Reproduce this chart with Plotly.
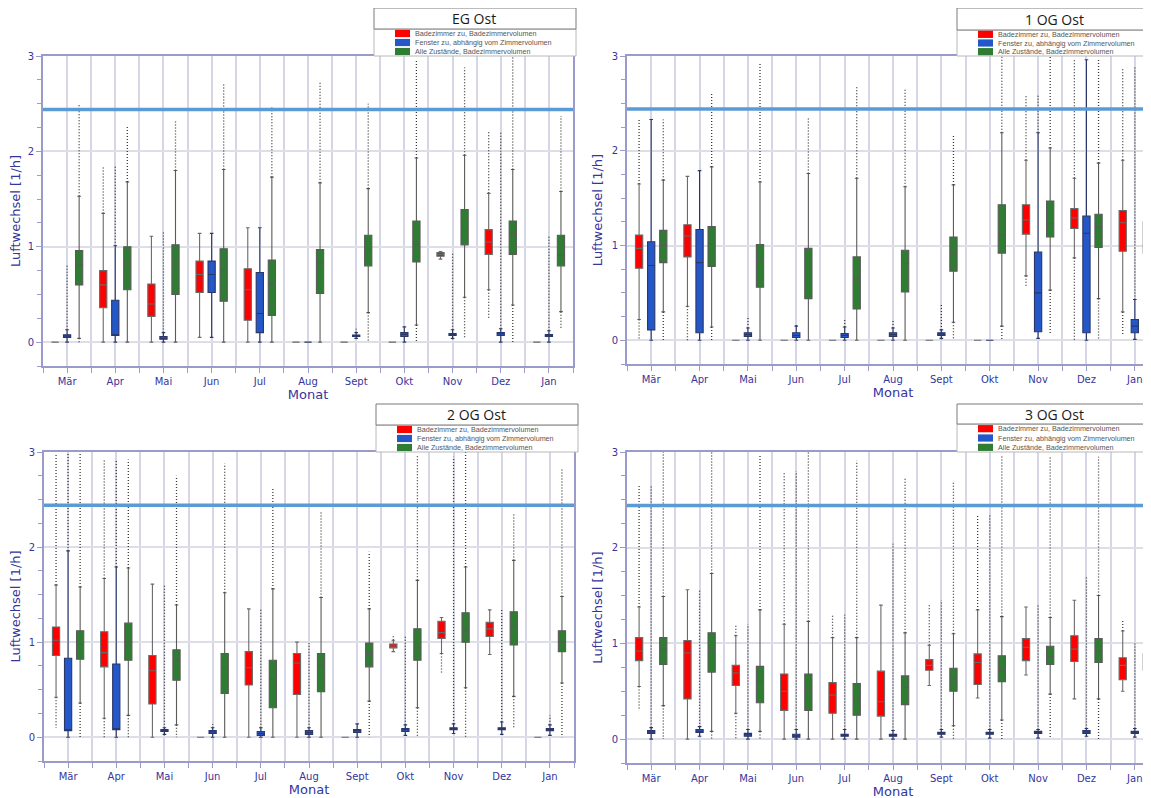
import plotly.graph_objects as go

W, H = 1151, 798
PAGE_OFFSET = 8  # default body margin of the html page

months = ["Mär", "Apr", "Mai", "Jun", "Jul", "Aug", "Sept", "Okt", "Nov", "Dez", "Jan"]
series_names = ["Badezimmer zu, Badezimmervolumen",
                "Fenster zu, abhängig vom Zimmervolumen",
                "Alle Zustände, Badezimmervolumen"]
series_colors = ["#ff0000", "#2457c8", "#2e7d32"]
series_line_colors = ["#6a6a6a", "#2a3768", "#5a5a5a"]
panel_titles = ["EG Ost", "1 OG Ost", "2 OG Ost", "3 OG Ost"]
limit_value = 2.44

# rows per month: (lower whisker, q1, median, q3, upper whisker, lowest outlier, highest outlier)
eg_bad = [
    (0, 0, 0, 0, 0, None, None),
    (0, 0.36, 0.60, 0.75, 1.35, None, 1.84),
    (0, 0.27, 0.40, 0.61, 1.11, None, None),
    (0.05, 0.52, 0.71, 0.85, 1.14, None, None),
    (0, 0.23, 0.55, 0.77, 1.20, None, None),
    (0, 0, 0, 0, 0, None, None),
    (0, 0, 0, 0, 0, None, None),
    (0, 0, 0, 0, 0, None, None),
    (0.87, 0.90, 0.92, 0.94, 0.95, None, None),
    (0.55, 0.92, 1.05, 1.18, 1.56, 0.24, 2.20),
    (0, 0, 0, 0, 0, None, None),
]
eg_fen = [
    (0, 0.05, 0.065, 0.077, 0.13, None, 0.80),
    (0, 0.07, 0.08, 0.44, 1.01, None, 1.84),
    (0, 0.03, 0.04, 0.06, 0.10, None, 1.16),
    (0.05, 0.52, 0.71, 0.85, 1.14, None, None),
    (0, 0.10, 0.30, 0.73, 1.20, None, None),
    (0, 0, 0, 0, 0, None, None),
    (0.04, 0.06, 0.065, 0.075, 0.10, None, 0.14),
    (0, 0.06, 0.08, 0.10, 0.16, None, None),
    (0.04, 0.07, 0.08, 0.09, 0.13, 0.02, 0.93),
    (0, 0.07, 0.09, 0.10, 0.14, None, 2.20),
    (0, 0.06, 0.07, 0.08, 0.12, None, 1.12),
]
eg_all = [
    (0.04, 0.60, 0.81, 0.96, 1.53, 0.0, 2.50),
    (0, 0.55, 0.82, 1.00, 1.68, None, 2.27),
    (0, 0.50, 0.82, 1.02, 1.80, None, 2.33),
    (0, 0.43, 0.76, 0.98, 1.81, None, 2.72),
    (0, 0.28, 0.61, 0.86, 1.73, None, 2.46),
    (0, 0.51, 0.83, 0.97, 1.67, None, 2.72),
    (0.31, 0.80, 0.97, 1.12, 1.61, 0.0, 2.50),
    (0.18, 0.84, 1.02, 1.27, 1.93, 0.0, 2.96),
    (0.47, 1.02, 1.18, 1.39, 1.96, 0.05, 2.88),
    (0.39, 0.92, 1.13, 1.27, 1.81, 0.0, 3.00),
    (0.32, 0.80, 0.91, 1.12, 1.58, 0.15, 2.37),
]

og1_bad = [
    (0.22, 0.76, 0.97, 1.11, 1.65, 0.0, 2.33),
    (0.36, 0.88, 1.10, 1.22, 1.73, 0.0, None),
    (0, 0, 0, 0, 0, None, None),
    (0, 0, 0, 0, 0, None, None),
    (0, 0, 0, 0, 0, None, None),
    (0, 0, 0, 0, 0, None, None),
    (0, 0, 0, 0, 0, None, None),
    (0, 0, 0, 0, 0, None, None),
    (0.68, 1.12, 1.27, 1.43, 1.90, 0.57, 2.59),
    (0.87, 1.18, 1.29, 1.39, 1.71, 0.0, 2.97),
    (0.30, 0.94, 1.24, 1.37, 1.90, 0.05, 2.88),
]
og1_fen = [
    (0, 0.11, 0.79, 1.04, 2.33, None, None),
    (0, 0.08, 0.82, 1.17, 1.79, None, None),
    (0, 0.04, 0.06, 0.08, 0.13, None, 0.25),
    (0, 0.03, 0.05, 0.08, 0.15, None, 0.18),
    (0, 0.03, 0.05, 0.07, 0.14, None, 0.22),
    (0, 0.04, 0.06, 0.08, 0.13, None, 0.22),
    (0.02, 0.05, 0.065, 0.08, 0.11, 0.0, 0.38),
    (0, 0, 0, 0, 0, None, None),
    (0.02, 0.09, 0.50, 0.93, 2.19, None, 2.58),
    (0, 0.08, 1.13, 1.31, 2.96, None, None),
    (0.01, 0.08, 0.15, 0.22, 0.43, None, 2.88),
]
og1_all = [
    (0.30, 0.82, 1.01, 1.16, 1.69, 0.0, 2.33),
    (0.14, 0.78, 1.02, 1.20, 1.83, 0.0, 2.60),
    (0, 0.56, 0.84, 1.01, 1.67, None, 2.93),
    (0, 0.44, 0.77, 0.97, 1.76, None, 2.35),
    (0, 0.33, 0.65, 0.88, 1.71, None, 2.68),
    (0, 0.51, 0.81, 0.95, 1.62, None, 2.66),
    (0.19, 0.73, 0.91, 1.09, 1.64, 0.0, 2.17),
    (0.15, 0.92, 1.11, 1.43, 2.19, 0.0, 3.00),
    (0.53, 1.09, 1.23, 1.47, 2.03, 0.07, 3.00),
    (0.44, 0.98, 1.20, 1.33, 1.87, 0.0, 2.97),
    (0.43, 0.92, 1.03, 1.25, 1.76, 0.05, 2.90),
]

og2_bad = [
    (0.42, 0.86, 1.02, 1.16, 1.60, 0.10, 2.99),
    (0.20, 0.74, 0.89, 1.11, 1.67, 0.0, 2.92),
    (0, 0.35, 0.70, 0.86, 1.61, None, None),
    (0, 0, 0, 0, 0, None, None),
    (0, 0.55, 0.73, 0.90, 1.35, None, None),
    (0, 0.45, 0.78, 0.88, 1.00, None, None),
    (0, 0, 0, 0, 0, None, None),
    (0.90, 0.94, 0.96, 0.98, 1.02, None, 1.07),
    (0.88, 1.04, 1.10, 1.22, 1.26, 0.67, None),
    (0.87, 1.06, 1.14, 1.21, 1.34, None, None),
    (0, 0, 0, 0, 0, None, None),
]
og2_fen = [
    (0, 0.07, 0.08, 0.83, 1.96, None, 2.99),
    (0, 0.08, 0.09, 0.77, 1.79, None, 2.92),
    (0.03, 0.06, 0.07, 0.08, 0.10, 0.0, 1.60),
    (0, 0.04, 0.055, 0.07, 0.10, None, 0.14),
    (0, 0.02, 0.04, 0.06, 0.10, None, 1.35),
    (0, 0.03, 0.05, 0.07, 0.10, None, 0.99),
    (0, 0.05, 0.07, 0.08, 0.14, None, None),
    (0.02, 0.06, 0.08, 0.09, 0.13, None, 1.07),
    (0.04, 0.08, 0.09, 0.10, 0.14, None, 2.95),
    (0.03, 0.08, 0.09, 0.10, 0.16, None, 1.35),
    (0.02, 0.07, 0.08, 0.09, 0.13, None, 0.23),
]
og2_all = [
    (0.36, 0.82, 0.98, 1.12, 1.58, 0.0, 2.99),
    (0.23, 0.81, 1.00, 1.20, 1.78, 0.0, 2.92),
    (0.13, 0.60, 0.81, 0.92, 1.39, 0.0, 2.75),
    (0, 0.46, 0.73, 0.88, 1.52, None, 2.88),
    (0, 0.31, 0.61, 0.81, 1.56, None, 2.62),
    (0, 0.48, 0.76, 0.88, 1.47, None, 2.37),
    (0.38, 0.74, 0.87, 0.99, 1.35, 0.0, 1.95),
    (0.31, 0.81, 0.94, 1.14, 1.65, 0.0, 2.97),
    (0.52, 1.00, 1.12, 1.31, 1.79, 0.0, 3.00),
    (0.43, 0.97, 1.17, 1.32, 1.86, 0.10, 2.35),
    (0.57, 0.90, 1.00, 1.12, 1.48, 0.0, 2.83),
]

og3_bad = [
    (0.55, 0.82, 0.92, 1.06, 1.38, 0.32, 2.65),
    (0, 0.42, 0.90, 1.03, 1.56, None, None),
    (0.27, 0.56, 0.69, 0.77, 1.08, 0.0, 1.20),
    (0, 0.30, 0.50, 0.68, 1.20, None, 2.80),
    (0, 0.27, 0.46, 0.59, 1.06, None, 1.30),
    (0, 0.24, 0.39, 0.71, 1.40, None, None),
    (0.56, 0.72, 0.77, 0.83, 0.98, None, 1.40),
    (0.43, 0.57, 0.80, 0.89, 1.35, None, 2.33),
    (0.67, 0.82, 0.96, 1.05, 1.38, None, None),
    (0.42, 0.81, 0.94, 1.08, 1.45, None, None),
    (0.50, 0.62, 0.77, 0.85, 1.13, None, 1.25),
]
og3_fen = [
    (0, 0.06, 0.075, 0.09, 0.12, None, 2.65),
    (0.03, 0.07, 0.08, 0.10, 0.13, None, 1.56),
    (0, 0.03, 0.045, 0.06, 0.10, None, 1.20),
    (0, 0.02, 0.035, 0.05, 0.10, None, 2.80),
    (0, 0.03, 0.04, 0.05, 0.10, None, 1.30),
    (0, 0.03, 0.04, 0.05, 0.09, None, 2.04),
    (0.02, 0.05, 0.06, 0.07, 0.10, None, 1.45),
    (0.01, 0.05, 0.06, 0.07, 0.10, None, 2.35),
    (0.01, 0.06, 0.07, 0.08, 0.10, None, 1.40),
    (0.03, 0.06, 0.075, 0.09, 0.11, None, 1.70),
    (0.02, 0.06, 0.07, 0.08, 0.11, None, 1.00),
]
og3_all = [
    (0.35, 0.78, 0.94, 1.06, 1.49, 0.0, 3.00),
    (0.08, 0.70, 0.93, 1.11, 1.73, 0.0, 3.00),
    (0.08, 0.38, 0.60, 0.76, 1.35, 0.0, 2.97),
    (0, 0.30, 0.51, 0.68, 1.23, None, 3.00),
    (0, 0.25, 0.43, 0.58, 1.06, None, 2.91),
    (0, 0.36, 0.54, 0.66, 1.11, None, 2.72),
    (0.14, 0.50, 0.63, 0.74, 1.10, 0.0, 2.70),
    (0.20, 0.60, 0.72, 0.87, 1.28, 0.0, 2.97),
    (0.47, 0.78, 0.86, 0.97, 1.27, 0.0, 2.95),
    (0.42, 0.80, 0.92, 1.05, 1.50, 0.0, 2.95),
    (0, 0.72, 0.81, 0.89, 1.30, None, 1.89),
]

panel_data = [
    [eg_bad, eg_fen, eg_all],
    [og1_bad, og1_fen, og1_all],
    [og2_bad, og2_fen, og2_all],
    [og3_bad, og3_fen, og3_all],
]

# ---------------- layout geometry (pixels in the screenshot) ----------------
# (left, right, top, bottom, visible months on x)
panel_px = [
    (43, 573, 56, 366, 10.5),
    (627, 1159, 56, 364, 10.5),
    (44, 574, 452, 761, 10.5),
    (627, 1159, 452, 763, 10.5),
]
legend_px = [  # box left, right, title top, split, bottom
    (374, 576, 8, 29, 56),
    (957, 1165, 8, 30, 56),
    (376, 578, 404, 425, 452),
    (957, 1165, 404, 424, 452),
]
title_center_px = [474, 1054, 476, 1054]
offsets = [-0.25, 0.0, 0.25]
box_width = 0.15

AXIS_BLUE = "#9a9acb"
GRID = "#d6d6e6"
TEXT_BLUE = "#35359c"
FONT = "DejaVu Sans"


def px_x(p):
    return (p - PAGE_OFFSET) / W


def px_y(p):
    return 1 - (p - PAGE_OFFSET) / H


fig = go.Figure()
shapes = []
annotations = []

for pi, series_list in enumerate(panel_data):
    xa = "x" if pi == 0 else f"x{pi + 1}"
    ya = "y" if pi == 0 else f"y{pi + 1}"

    for si, table in enumerate(series_list):
        lo, q1, med, q3, hi, omin, omax = [list(c) for c in zip(*table)]
        pos = [m + offsets[si] for m in range(len(months))]

        # outliers drawn as dotted columns between whisker end and extreme value
        ox, oy = [], []
        for k in range(len(months)):
            if omax[k] is not None:
                ox += [pos[k], pos[k], None]
                oy += [hi[k], omax[k], None]
            if omin[k] is not None:
                ox += [pos[k], pos[k], None]
                oy += [lo[k], omin[k], None]
        fig.add_trace(go.Scatter(
            x=ox, y=oy, mode="lines", xaxis=xa, yaxis=ya,
            line=dict(color="#3a3a3a", width=1.3, dash="1px,2px"),
            hoverinfo="skip", showlegend=False))

        fig.add_trace(go.Box(
            x=pos, q1=q1, median=med, q3=q3, lowerfence=lo, upperfence=hi,
            name=series_names[si], xaxis=xa, yaxis=ya,
            fillcolor=series_colors[si],
            line=dict(color=series_line_colors[si], width=1.1),
            whiskerwidth=0.5, width=box_width, boxpoints=False,
            showlegend=False))

    l, r, t, b, xmax = panel_px[pi]
    xkey = "xaxis" if pi == 0 else f"xaxis{pi + 1}"
    ykey = "yaxis" if pi == 0 else f"yaxis{pi + 1}"
    fig.update_layout(**{
        xkey: dict(
            domain=[px_x(l), px_x(r)], range=[-0.5, xmax], anchor=ya,
            tickmode="array", tickvals=list(range(len(months))), ticktext=months,
            showgrid=True, gridcolor=GRID, gridwidth=2,
            minor=dict(tickvals=[k - 0.5 for k in range(len(months) + 1)],
                       showgrid=True, gridcolor=GRID, gridwidth=2,
                       ticks="outside", ticklen=5, tickcolor=AXIS_BLUE),
            ticks="outside", ticklen=5, tickcolor=AXIS_BLUE,
            showline=True, linecolor=AXIS_BLUE, linewidth=2, mirror=True,
            zeroline=False, automargin=False,
            tickfont=dict(family=FONT, size=10, color=TEXT_BLUE),
            title=dict(text="Monat", font=dict(family=FONT, size=13, color=TEXT_BLUE), standoff=1),
        ),
        ykey: dict(
            domain=[px_y(b), px_y(t)], range=[-0.25, 3], anchor=xa,
            tickmode="array", tickvals=[0, 1, 2, 3],
            showgrid=True, gridcolor="#dedee6", gridwidth=2,
            minor=dict(tickvals=[k * 0.25 for k in range(-1, 13)],
                       ticks="outside", ticklen=4, tickcolor=AXIS_BLUE, showgrid=False),
            ticks="outside", ticklen=5, tickcolor=AXIS_BLUE,
            showline=True, linecolor=AXIS_BLUE, linewidth=2, mirror=True,
            zeroline=False, automargin=False,
            tickfont=dict(family=FONT, size=10, color=TEXT_BLUE),
            title=dict(text="Luftwechsel [1/h]", font=dict(family=FONT, size=13, color=TEXT_BLUE), standoff=6),
        ),
    })

    # y = 1 emphasised grid line
    shapes.append(dict(type="line", xref=f"{xa} domain", yref=ya, x0=0, x1=1, y0=1, y1=1,
                       line=dict(color="#8c8cc4", width=1), layer="below"))
    # limit line
    shapes.append(dict(type="line", xref=f"{xa} domain", yref=ya, x0=0, x1=1,
                       y0=limit_value, y1=limit_value,
                       line=dict(color="#5b9bd5", width=3.5), layer="above"))

    # legend block
    lx0, lx1, ly0, lsplit, ly1 = legend_px[pi]
    shapes.append(dict(type="rect", xref="paper", yref="paper",
                       x0=px_x(lx0), x1=px_x(lx1), y0=px_y(lsplit), y1=px_y(ly1),
                       fillcolor="white", line=dict(color="#b8b8b8", width=1), layer="above"))
    shapes.append(dict(type="rect", xref="paper", yref="paper",
                       x0=px_x(lx0), x1=px_x(lx1), y0=px_y(ly0), y1=px_y(lsplit),
                       fillcolor="white", line=dict(color="#7a7a7a", width=1), layer="above"))
    annotations.append(dict(xref="paper", yref="paper",
                            x=px_x(title_center_px[pi]), y=px_y((ly0 + lsplit) / 2),
                            text=panel_titles[pi], showarrow=False, xanchor="center", yanchor="middle",
                            font=dict(family="Open Sans", size=14, color="#1a1a1a")))
    row_h = (ly1 - lsplit) / 3.0
    for si in range(3):
        cy = lsplit + row_h * (si + 0.5)
        shapes.append(dict(type="rect", xref="paper", yref="paper",
                           x0=px_x(lx0 + 21), x1=px_x(lx0 + 36),
                           y0=px_y(cy + 3.6), y1=px_y(cy - 3.6),
                           fillcolor=series_colors[si], line=dict(width=0), layer="above"))
        annotations.append(dict(xref="paper", yref="paper", x=px_x(lx0 + 39), y=px_y(cy),
                                text=series_names[si], showarrow=False,
                                xanchor="left", yanchor="middle",
                                font=dict(family="Liberation Sans", size=7.2, color="#555555")))

fig.update_layout(
    width=W, height=H, margin=dict(l=0, r=0, t=0, b=0),
    paper_bgcolor="white", plot_bgcolor="white",
    boxmode="overlay", showlegend=False,
    shapes=shapes, annotations=annotations,
)

fig.write_html("out.html")
